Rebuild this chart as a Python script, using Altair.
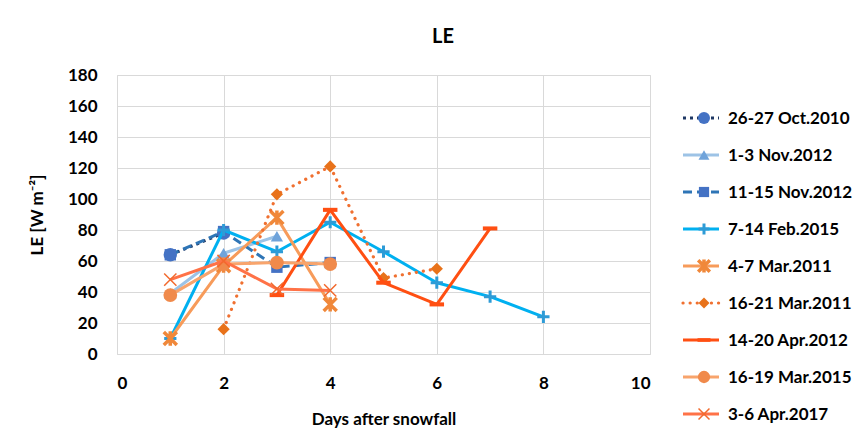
import altair as alt
import pandas as pd

# ---- data ----
series_names = [
    "26-27 Oct.2010", "1-3 Nov.2012", "11-15 Nov.2012", "7-14 Feb.2015",
    "4-7 Mar.2011", "16-21 Mar.2011", "14-20 Apr.2012", "16-19 Mar.2015",
    "3-6 Apr.2017",
]
days_oct2010 = [1, 2]
le_oct2010 = [64, 78]
days_nov2012a = [1, 2, 3]
le_nov2012a = [39, 65, 76]
days_nov2012b = [1, 2, 3, 4]
le_nov2012b = [64, 79, 56, 59]
days_feb2015 = [1, 2, 3, 4, 5, 6, 7, 8]
le_feb2015 = [10, 80, 66, 85, 66, 46, 37, 24]
days_mar2011a = [1, 2, 3, 4]
le_mar2011a = [10, 57, 88, 32]
days_mar2011b = [2, 3, 4, 5, 6]
le_mar2011b = [16, 103, 121, 49, 55]
days_apr2012 = [3, 4, 5, 6, 7]
le_apr2012 = [38, 93, 46, 32, 81]
days_mar2015 = [1, 2, 3, 4]
le_mar2015 = [38, 58, 59, 58]
days_apr2017 = [1, 2, 3, 4]
le_apr2017 = [48, 60, 42, 41]

all_days = [days_oct2010, days_nov2012a, days_nov2012b, days_feb2015,
            days_mar2011a, days_mar2011b, days_apr2012, days_mar2015, days_apr2017]
all_le = [le_oct2010, le_nov2012a, le_nov2012b, le_feb2015,
          le_mar2011a, le_mar2011b, le_apr2012, le_mar2015, le_apr2017]

x_ticks = [0, 2, 4, 6, 8, 10]
y_ticks = [0, 20, 40, 60, 80, 100, 120, 140, 160, 180]

# ---- styles ----
PLUS = "M-1,0H1M0,-1V1"
STAR = "M-1,-1L1,1M-1,1L1,-1M0,-1.1V1.1"
XMARK = "M-1,-1L1,1M-1,1L1,-1"
DASH = "M-1,-0.28H1V0.28H-1Z"
styles = [
    dict(line="#1F3864", dash=[3, 4], cap="butt", lw=3, shape="circle", mc="#4472C4", filled=True, size=180, mw=0),
    dict(line="#9DC3E6", dash=None, cap="butt", lw=3, shape="triangle-up", mc="#6FA3DA", filled=True, size=150, mw=0),
    dict(line="#2E75B6", dash=[9, 5], cap="butt", lw=3, shape="square", mc="#4472C4", filled=True, size=130, mw=0),
    dict(line="#00B0F0", dash=None, cap="butt", lw=3, shape=PLUS, mc="#2E9BD6", filled=False, size=150, mw=3),
    dict(line="#F79B5A", dash=None, cap="butt", lw=3, shape=STAR, mc="#F0883A", filled=False, size=170, mw=3.5),
    dict(line="#F07030", dash=[0.1, 7], cap="round", lw=3.2, shape="diamond", mc="#E8721A", filled=True, size=150, mw=0),
    dict(line="#FF4F12", dash=None, cap="butt", lw=3, shape=DASH, mc="#FF4F12", filled=True, size=210, mw=0),
    dict(line="#F8A46C", dash=None, cap="butt", lw=3, shape="circle", mc="#F08A4B", filled=True, size=190, mw=0),
    dict(line="#FF7247", dash=None, cap="butt", lw=3, shape=XMARK, mc="#F26A2E", filled=False, size=150, mw=1.5),
]

FONT = "Lato"

x_enc = alt.X("day:Q", scale=alt.Scale(domain=[0, 10], nice=False),
              axis=alt.Axis(values=x_ticks, title="Days after snowfall", grid=True,
                            gridColor="#D9D9D9", domain=False, ticks=False,
                            labelFontSize=17, labelFontWeight="bold", labelColor="#000",
                            labelPadding=21, titleFontSize=17, titleFontWeight="bold",
                            titleColor="#000", titlePadding=20, labelFont=FONT, titleFont=FONT))
y_enc = alt.Y("le:Q", scale=alt.Scale(domain=[0, 180], nice=False),
              axis=alt.Axis(values=y_ticks, title="LE [W m\u207b\u00b2]", grid=True,
                            gridColor="#D9D9D9", domain=False, ticks=False,
                            labelFontSize=17, labelFontWeight="bold", labelColor="#000",
                            labelPadding=20, titleFontSize=17, titleFontWeight="bold",
                            titleColor="#000", titlePadding=21, labelFont=FONT, titleFont=FONT))

layers = []
for i, (name, d, v) in enumerate(zip(series_names, all_days, all_le)):
    st = styles[i]
    df = pd.DataFrame({"day": d, "le": v, "series": name})
    lk = dict(color=st["line"], strokeWidth=st["lw"], strokeJoin="round")
    if st["dash"]:
        lk["strokeDash"] = st["dash"]
        lk["strokeCap"] = st["cap"]
    line = alt.Chart(df).mark_line(**lk).encode(x=x_enc, y=y_enc)
    if st["filled"]:
        pk = dict(shape=st["shape"], filled=True, fill=st["mc"], size=st["size"], opacity=1, strokeWidth=0)
    else:
        pk = dict(shape=st["shape"], filled=False, stroke=st["mc"], strokeWidth=st["mw"], size=st["size"], opacity=1)
    pts = alt.Chart(df).mark_point(**pk).encode(x=x_enc, y=y_enc)
    layers += [line, pts]

# ---- custom legend (Excel-style line-through-marker) ----
for i, name in enumerate(series_names):
    st = styles[i]
    ldf = pd.DataFrame({"series": [name]})
    yy = 43 + 37 * i
    rk = dict(color=st["line"], strokeWidth=st["lw"])
    if st["dash"]:
        rk["strokeDash"] = st["dash"]
        rk["strokeCap"] = st["cap"]
    rule = alt.Chart(ldf).mark_rule(**rk).encode(x=alt.value(566), x2=alt.value(602), y=alt.value(yy))
    if st["filled"]:
        pk = dict(shape=st["shape"], filled=True, fill=st["mc"], size=st["size"] * 0.8, opacity=1, strokeWidth=0)
    else:
        pk = dict(shape=st["shape"], filled=False, stroke=st["mc"], strokeWidth=st["mw"], size=st["size"] * 0.8, opacity=1)
    sym = alt.Chart(ldf).mark_point(**pk).encode(x=alt.value(587), y=alt.value(yy))
    txt = alt.Chart(ldf).mark_text(align="left", baseline="middle", fontSize=17, fontWeight="bold",
                                   font=FONT, color="#000").encode(
        x=alt.value(611), y=alt.value(yy + 1), text="series:N")
    layers += [rule, sym, txt]

title_df = pd.DataFrame({"t": ["LE"]})
title = alt.Chart(title_df).mark_text(fontSize=20, fontWeight="bold", font=FONT, color="#000",
                                      align="center", baseline="middle").encode(
    x=alt.value(326), y=alt.value(-38), text="t:N")
layers.append(title)

chart = alt.layer(*layers).properties(
    width=533, height=279,
    autosize=alt.AutoSizeParams(type="none"),
    padding={"left": 109, "top": 67, "right": 208, "bottom": 78},
).configure_view(stroke=None).configure(background="white")

chart.save("out.html", embed_options={"renderer": "svg", "actions": False})
